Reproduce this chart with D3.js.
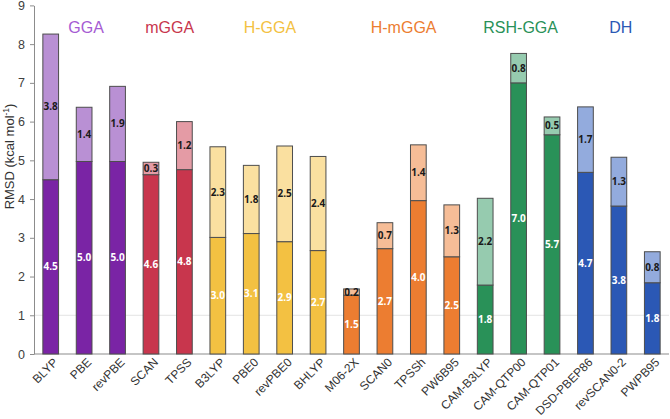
<!DOCTYPE html>
<html><head><meta charset="utf-8">
<script src="https://cdn.jsdelivr.net/npm/d3@7"></script>
<style>body{margin:0;background:#fff;} svg{display:block;}</style>
</head><body>
<svg id="chart" width="670" height="419"></svg>
<script>
const methods = ["BLYP","PBE","revPBE","SCAN","TPSS","B3LYP","PBE0","revPBE0","BHLYP","M06-2X","SCAN0","TPSSh","PW6B95","CAM-B3LYP","CAM-QTP00","CAM-QTP01","DSD-PBEP86","revSCAN0-2","PWPB95"];
const baseValues = [4.50,4.97,4.97,4.63,4.76,3.01,3.11,2.90,2.67,1.52,2.72,3.96,2.51,1.78,7.00,5.66,4.69,3.82,1.84];
const extraValues = [3.76,1.40,1.94,0.32,1.24,2.34,1.76,2.47,2.43,0.16,0.67,1.44,1.34,2.24,0.76,0.46,1.69,1.26,0.80];
const groupNames = ["GGA","mGGA","H-GGA","H-mGGA","RSH-GGA","DH"];
const groupSizes = [3,2,4,4,3,3];
const darkColors = ["#7A24A5","#C8364D","#F3C142","#EC7D31","#299158","#2B58B5"];
const lightColors = ["#B990D4","#E49BA5","#FAE0A0","#F6BD97","#96CBAF","#93ABDD"];
const titleColors = ["#A65BD3","#C8364D","#F3C142","#EC7D31","#299158","#2B58B5"];
const yTicks = [0,1,2,3,4,5,6,7,8,9];

const groupOf = [];
groupSizes.forEach((n,g)=>{for(let i=0;i<n;i++) groupOf.push(g);});

const svg = d3.select("#chart");
const x = d3.scaleBand().domain(methods).range([34,669]).paddingInner(0.5).paddingOuter(0.25);
const y = d3.scaleLinear().domain([0,9]).range([354,5.4]);
const sans = "Liberation Sans, Arial, sans-serif";

// gridline at 1
svg.append("line").attr("x1",34).attr("x2",669).attr("y1",y(1)).attr("y2",y(1))
  .attr("stroke","#e3e3e3").attr("stroke-width",1);

// y axis
const yAxis = svg.append("g").attr("transform","translate(34,0)")
  .call(d3.axisLeft(y).tickValues(yTicks).tickSize(4).tickSizeOuter(0).tickFormat(d3.format("d")));
yAxis.select(".domain").attr("stroke","#8c8c8c");
yAxis.selectAll(".tick line").attr("stroke","#8c8c8c");
yAxis.selectAll(".tick text").attr("font-family",sans)
  .attr("font-size",12.5).attr("fill","#404040").attr("x",-9);

// x axis line
svg.append("line").attr("x1",34).attr("x2",669).attr("y1",y(0)).attr("y2",y(0))
  .attr("stroke","#8c8c8c").attr("stroke-width",1.2);

// bars
const data = methods.map((m,i)=>({m, base:baseValues[i], extra:extraValues[i], g:groupOf[i]}));
const fmt = d3.format(".1f");
const bars = svg.append("g");
bars.selectAll("rect.base").data(data).join("rect").attr("class","base")
  .attr("x",d=>x(d.m)+0.5).attr("width",x.bandwidth()-1)
  .attr("y",d=>y(d.base)).attr("height",d=>y(0)-y(d.base))
  .attr("fill",d=>darkColors[d.g]).attr("stroke","#4d4d4d").attr("stroke-width",1);
bars.selectAll("rect.extra").data(data).join("rect").attr("class","extra")
  .attr("x",d=>x(d.m)+0.5).attr("width",x.bandwidth()-1)
  .attr("y",d=>y(d.base+d.extra)).attr("height",d=>y(d.base)-y(d.base+d.extra))
  .attr("fill",d=>lightColors[d.g]).attr("stroke","#4d4d4d").attr("stroke-width",1);

const lblFont = "Open Sans, Liberation Sans, sans-serif";
bars.selectAll("text.bl").data(data).join("text").attr("class","bl")
  .attr("x",d=>x(d.m)+x.bandwidth()/2).attr("y",d=>y(d.base/2)).attr("dy","0.35em")
  .attr("text-anchor","middle").attr("font-family",lblFont).attr("font-weight","bold")
  .attr("font-size",10).attr("fill","#ffffff").text(d=>fmt(d.base));
bars.selectAll("text.el").data(data).join("text").attr("class","el")
  .attr("x",d=>x(d.m)+x.bandwidth()/2).attr("y",d=>y(d.base+d.extra/2)).attr("dy","0.35em")
  .attr("text-anchor","middle").attr("font-family",lblFont).attr("font-weight","bold")
  .attr("font-size",10).attr("fill","#1a1a1a").text(d=>fmt(d.extra));

// x labels
svg.append("g").selectAll("text").data(methods).join("text")
  .attr("transform",d=>`translate(${x(d)+x.bandwidth()/2+5},${360}) rotate(-45)`)
  .attr("text-anchor","end").attr("dy","0.35em")
  .attr("font-family",sans).attr("font-size",12)
  .attr("fill","#333").text(d=>d);

// group titles
let start = 0;
groupNames.forEach((name,g)=>{
  const first = methods[start], last = methods[start+groupSizes[g]-1];
  const cx = (x(first)+x(last)+x.bandwidth())/2 + 2;
  svg.append("text").attr("x",cx).attr("y",y(8.28))
    .attr("text-anchor","middle").attr("font-family",sans)
    .attr("font-size",16).attr("fill",titleColors[g]).text(name);
  start += groupSizes[g];
});

// y title
const yt = svg.append("text").attr("transform",`translate(14,${y(5.1)}) rotate(-90)`)
  .attr("text-anchor","middle").attr("font-family",sans)
  .attr("font-size",13).attr("fill","#333")
  .text("RMSD (kcal mol");
yt.append("tspan").attr("baseline-shift","super").attr("font-size",8.5).text("-1");
yt.append("tspan").text(")");
</script>
</body></html>
